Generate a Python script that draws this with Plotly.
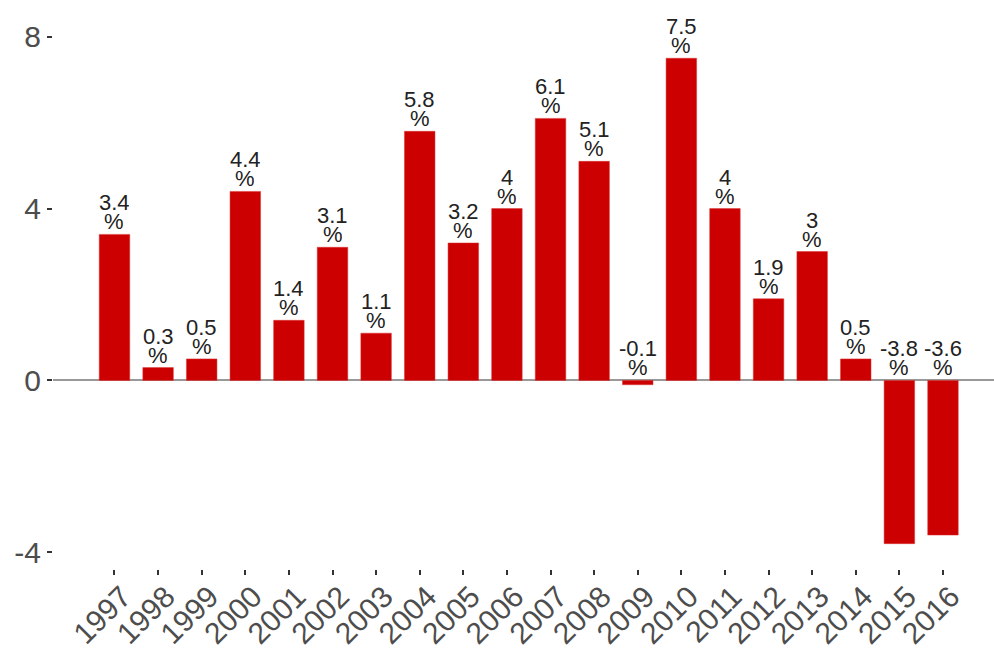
import plotly.graph_objects as go

years = [str(y) for y in range(1997, 2017)]
values = [3.4, 0.3, 0.5, 4.4, 1.4, 3.1, 1.1, 5.8, 3.2, 4.0, 6.1, 5.1, -0.1, 7.5, 4.0, 1.9, 3.0, 0.5, -3.8, -3.6]
labels = ["3.4", "0.3", "0.5", "4.4", "1.4", "3.1", "1.1", "5.8", "3.2", "4", "6.1", "5.1", "-0.1", "7.5", "4", "1.9", "3", "0.5", "-3.8", "-3.6"]
y_ticks = [-4, 0, 4, 8]

FONT = "Liberation Sans, Arial, sans-serif"

fig = go.Figure()
fig.add_trace(go.Bar(
    x=years, y=values, width=0.7,
    marker=dict(color="#cc0000", line=dict(color="#dd3333", width=0.5)),
    hoverinfo="skip",
))

annotations = []
for i, (v, lab) in enumerate(zip(values, labels)):
    base = max(v, 0)
    annotations.append(dict(x=i, y=base, xref="x", yref="y", text="%", showarrow=False,
                            yanchor="middle", yshift=13, height=18, valign="middle",
                            font=dict(family=FONT, size=22, color="#222222")))
    annotations.append(dict(x=i, y=base, xref="x", yref="y", text=lab, showarrow=False,
                            yanchor="middle", yshift=32, height=18, valign="middle",
                            font=dict(family=FONT, size=22, color="#222222")))

fig.update_layout(
    width=994, height=653,
    margin=dict(l=53, r=0, t=5, b=84),
    paper_bgcolor="white", plot_bgcolor="white",
    showlegend=False,
    annotations=annotations,
    xaxis=dict(
        type="category", range=[-1.41, 20.17], automargin=False,
        showgrid=False, zeroline=False, showline=False,
        ticks="outside", ticklen=5, tickwidth=2, tickcolor="#333333",
        tickangle=-45, tickfont=dict(family=FONT, size=30, color="#4d4d4d"),
        ticklabelstandoff=-8, ticklabelshift=8,
    ),
    yaxis=dict(
        range=[-4.39, 8.74], automargin=False,
        tickvals=y_ticks, ticktext=[str(t) for t in y_ticks],
        showgrid=False, zeroline=True, zerolinecolor="#999999", zerolinewidth=2,
        showline=False,
        ticks="outside", ticklen=5, tickwidth=2, tickcolor="#333333",
        tickfont=dict(family=FONT, size=30, color="#4d4d4d"),
    ),
)

fig.write_html("out.html")
